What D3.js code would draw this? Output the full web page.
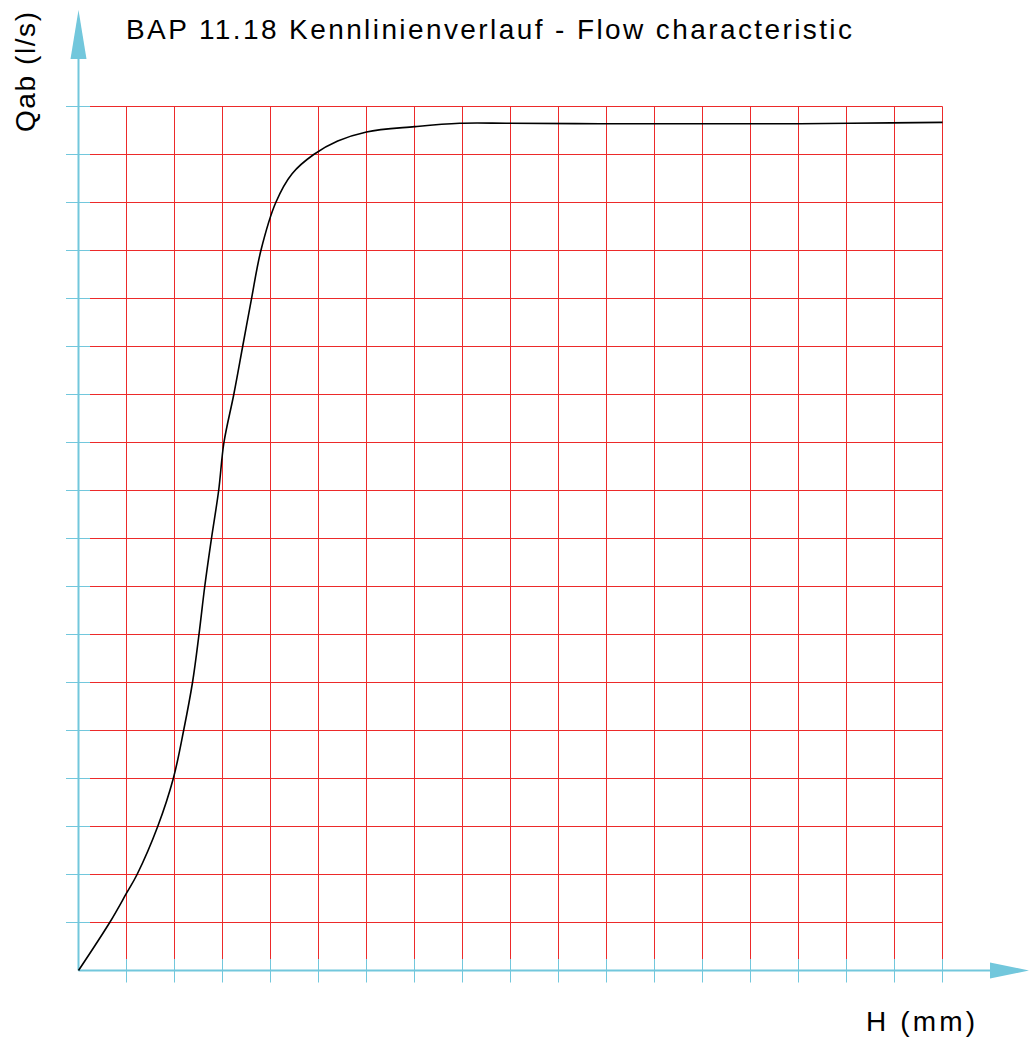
<!DOCTYPE html>
<html>
<head>
<meta charset="utf-8">
<script src="https://cdn.jsdelivr.net/npm/d3@7"></script>
<style>
  html, body { margin: 0; padding: 0; background: #fff; }
  svg { display: block; }
</style>
</head>
<body>
<svg id="chart" width="1029" height="1037"></svg>
<script>
// ---- data (grid units; one unit = one grid cell) ----
const titleText = "BAP 11.18 Kennlinienverlauf - Flow characteristic";
const xLabel = "H (mm)";
const yLabel = "Qab (l/s)";
const gridX = [1,2,3,4,5,6,7,8,9,10,11,12,13,14,15,16,17,18];
const gridY = [1,2,3,4,5,6,7,8,9,10,11,12,13,14,15,16,17,18];
const curveH = [0, 0.65, 1.0, 1.22, 1.65, 1.975, 2.19, 2.375, 2.51, 2.63, 2.77, 2.92, 3.03, 3.235, 3.42, 3.6, 3.8, 4.11, 4.45, 4.9, 5.4, 6.0, 7.0, 7.94, 8.98, 10.86, 12.95, 15.03, 16.07, 18.0];
const curveQ = [0, 1.0, 1.61, 2.0, 3.0, 4.0, 5.0, 6.0, 7.0, 8.0, 9.0, 10.0, 11.0, 12.0, 13.0, 13.97, 15.0, 16.0, 16.6, 17.0, 17.28, 17.47, 17.58, 17.65, 17.65, 17.64, 17.64, 17.64, 17.65, 17.67];

// ---- drawing ----
const svg = d3.select("#chart");
const axisColor = "#72c7dc";
const gridColor = "#ec2a2a";

const x = d3.scaleLinear().domain([0, 18]).range([78.5, 942.5]);
const y = d3.scaleLinear().domain([0, 18]).range([970.5, 106.5]);

// grid: vertical lines
svg.append("g").selectAll("line").data(gridX).join("line")
  .attr("x1", d => x(d)).attr("x2", d => x(d))
  .attr("y1", y(18)).attr("y2", y(0) - 11.5)
  .attr("stroke", gridColor).attr("stroke-width", 1);
// grid: horizontal lines
svg.append("g").selectAll("line").data(gridY).join("line")
  .attr("x1", x(0) + 11.5).attr("x2", x(18))
  .attr("y1", d => y(d)).attr("y2", d => y(d))
  .attr("stroke", gridColor).attr("stroke-width", 1);

// ticks (cyan)
svg.append("g").selectAll("line").data(gridX).join("line")
  .attr("x1", d => x(d)).attr("x2", d => x(d))
  .attr("y1", y(0) - 11.5).attr("y2", y(0) + 12)
  .attr("stroke", axisColor).attr("stroke-width", 1);
svg.append("g").selectAll("line").data(gridY).join("line")
  .attr("x1", x(0) - 12.5).attr("x2", x(0) + 11.5)
  .attr("y1", d => y(d)).attr("y2", d => y(d))
  .attr("stroke", axisColor).attr("stroke-width", 1);

// axes lines
svg.append("line")
  .attr("x1", x(0)).attr("x2", 991)
  .attr("y1", y(0)).attr("y2", y(0))
  .attr("stroke", axisColor).attr("stroke-width", 2);
svg.append("line")
  .attr("x1", x(0)).attr("x2", x(0))
  .attr("y1", y(0)).attr("y2", 58)
  .attr("stroke", axisColor).attr("stroke-width", 2);

// arrowheads
svg.append("path")
  .attr("d", `M${x(0)},10 L${x(0) - 8},59 L${x(0) + 8},59 Z`)
  .attr("fill", axisColor);
svg.append("path")
  .attr("d", `M1029,${y(0)} L990,${y(0) - 8} L990,${y(0) + 8} Z`)
  .attr("fill", axisColor);

// curve
const pts = curveH.map((h, i) => [h, curveQ[i]]);
const line = d3.line()
  .x(d => x(d[0])).y(d => y(d[1]))
  .curve(d3.curveCatmullRom.alpha(0.5));
svg.append("path")
  .datum(pts)
  .attr("d", line)
  .attr("fill", "none")
  .attr("stroke", "#000")
  .attr("stroke-width", 1.6);

// texts
const font = "'Liberation Sans Narrow', 'Liberation Sans', Arial, sans-serif";
svg.append("text")
  .attr("x", 126).attr("y", 38.5)
  .attr("font-family", font).attr("font-size", 28)
  .attr("textLength", 726).attr("lengthAdjust", "spacing")
  .attr("fill", "#000")
  .text(titleText);

svg.append("text")
  .attr("transform", "translate(35,132) rotate(-90)")
  .attr("font-family", font).attr("font-size", 28)
  .attr("textLength", 120).attr("lengthAdjust", "spacing")
  .attr("fill", "#000")
  .text(yLabel);

svg.append("text")
  .attr("x", 866).attr("y", 1031)
  .attr("font-family", font).attr("font-size", 28)
  .attr("textLength", 109).attr("lengthAdjust", "spacing")
  .attr("fill", "#000")
  .text(xLabel);
</script>
</body>
</html>
